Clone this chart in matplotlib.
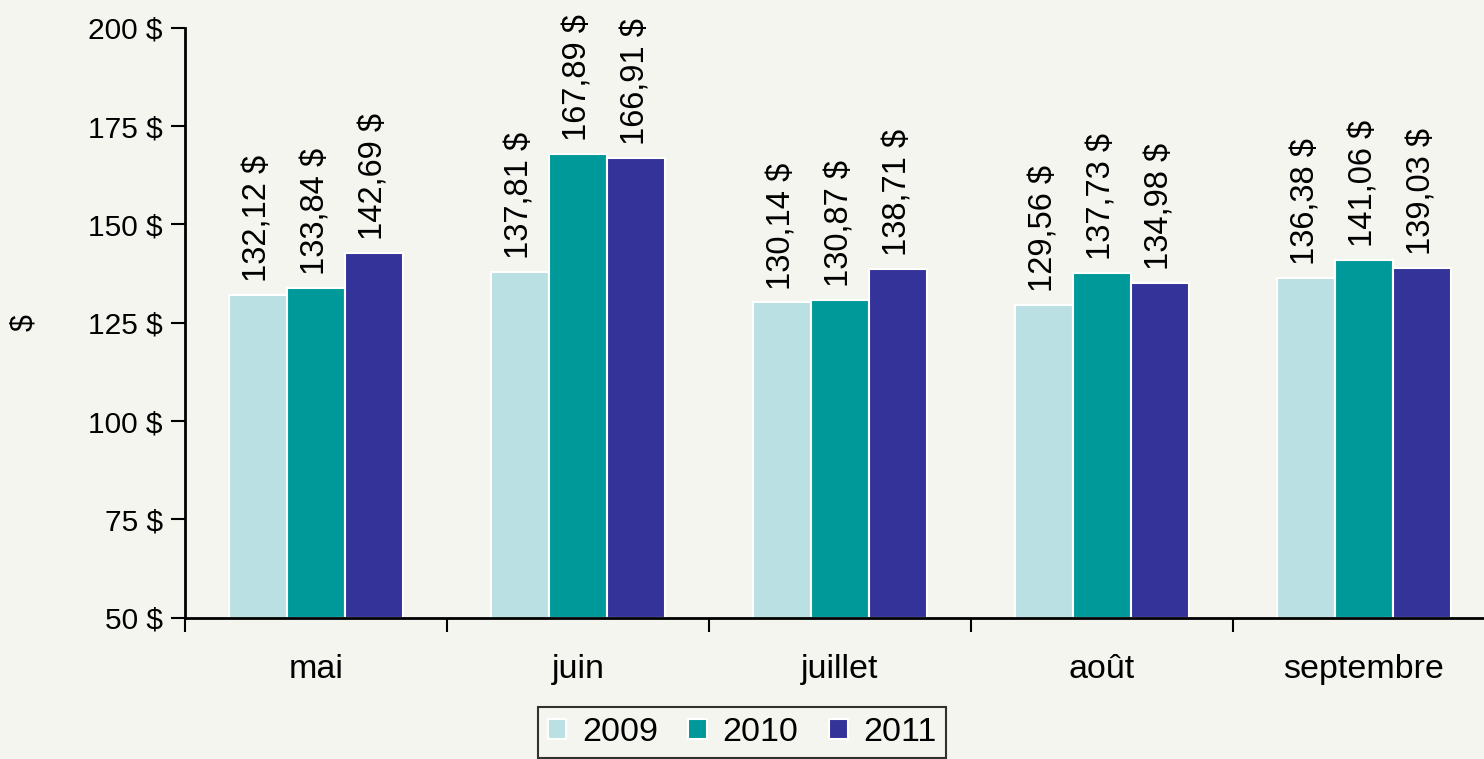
import matplotlib
matplotlib.use("Agg")
import matplotlib.pyplot as plt
import numpy as np

plt.rcParams['font.family'] = ['Liberation Sans', 'DejaVu Sans']

months = ["mai", "juin", "juillet", "août", "septembre"]
years = ["2009", "2010", "2011"]
v2009 = [132.12, 137.81, 130.14, 129.56, 136.38]
v2010 = [133.84, 167.89, 130.87, 137.73, 141.06]
v2011 = [142.69, 166.91, 138.71, 134.98, 139.03]
series = [v2009, v2010, v2011]
colors = ["#BAE0E4", "#009999", "#333399"]
yticks = [50, 75, 100, 125, 150, 175, 200]

bg = "#F5F5F0"
W, H = 1484, 759
fig = plt.figure(figsize=(W / 100, H / 100), dpi=100, facecolor=bg)
ax = fig.add_axes([185 / W, (H - 617.7) / H, (1495 - 185) / W, (617.7 - 27.7) / H])
ax.set_facecolor(bg)

n = len(months)
centers = np.arange(n) + 0.5
w = 0.221

def fmt(v):
    return f"{v:.2f}".replace(".", ",") + " $"

for k, (vals, col, yr) in enumerate(zip(series, colors, years)):
    xs = centers + (k - 1) * w
    ax.bar(xs, np.array(vals) - 50, bottom=50, width=w, color=col,
           edgecolor="white", linewidth=1.5, label=yr)
    for x, v in zip(xs, vals):
        ax.text(x, v + 3.3, fmt(v), rotation=90, ha="center", va="bottom",
                fontsize=23.5, color="black")

ax.set_xlim(0, n)
ax.set_ylim(50, 200)
ax.set_yticks(yticks)
ax.set_yticklabels([f"{t} $" for t in yticks], fontsize=21.5)
ax.set_xticks(np.arange(n + 1))
ax.set_xticklabels([])
ax.set_xticks(centers, minor=True)
ax.set_xticklabels(months, minor=True, fontsize=24.5)
ax.tick_params(axis="x", which="minor", length=0, pad=26)
ax.tick_params(axis="x", which="major", length=10, width=1.5, direction="out")
ax.tick_params(axis="y", length=10, width=1.5, direction="out", pad=6)
for s in ["top", "right"]:
    ax.spines[s].set_visible(False)
for s in ["left", "bottom"]:
    ax.spines[s].set_linewidth(2)
ax.set_ylabel("$", fontsize=22, labelpad=35)

leg = fig.legend(loc="upper center", bbox_to_anchor=(742 / W, (H - 707) / H),
                 ncol=3, frameon=True, fontsize=24.5, handlelength=0.55,
                 handleheight=0.55, handletextpad=0.45, columnspacing=0.9,
                 borderpad=0.3, borderaxespad=0, fancybox=False)
leg.get_frame().set_edgecolor("black")
leg.get_frame().set_linewidth(1.5)
leg.get_frame().set_facecolor(bg)

fig.savefig("out.png", dpi=100, facecolor=bg)
